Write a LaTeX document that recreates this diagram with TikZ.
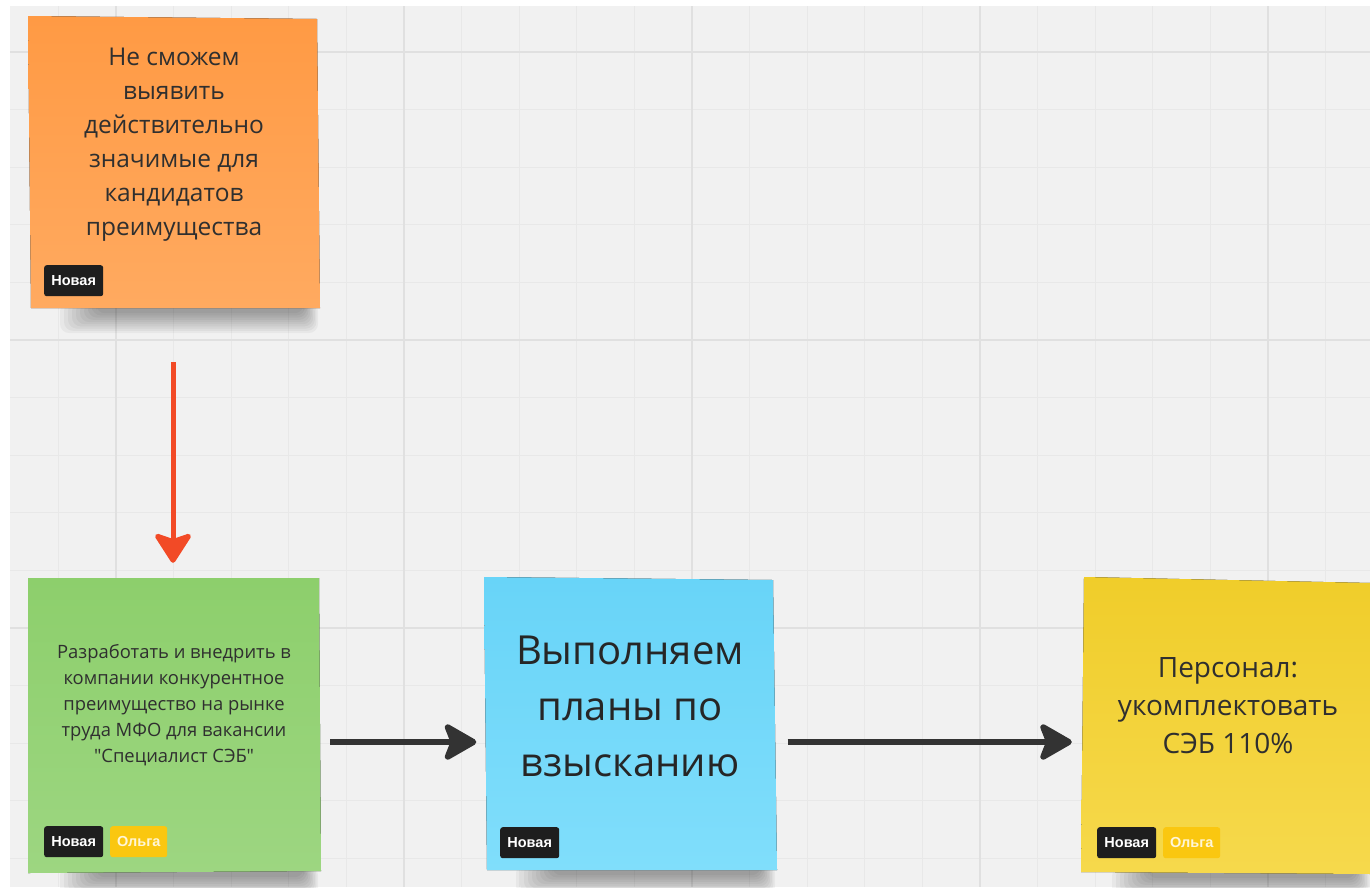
\documentclass[tikz,border=0pt]{standalone}
\usepackage{fontspec}
\setmainfont{Open Sans}[Ligatures=TeXOff]
\newfontfamily\tagfont{Liberation Sans}
\usetikzlibrary{arrows.meta,calc}
\definecolor{bgc}{HTML}{F1F1F1}
\definecolor{gminor}{HTML}{E8E8E8}
\definecolor{gmajor}{HTML}{E0E0E0}
\definecolor{ortop}{HTML}{FF9A44}
\definecolor{orbot}{HTML}{FFAA60}
\definecolor{grtop}{HTML}{8DCF6C}
\definecolor{grbot}{HTML}{9DD681}
\definecolor{bltop}{HTML}{68D4F8}
\definecolor{blbot}{HTML}{80DEFB}
\definecolor{yetop}{HTML}{F0CD2A}
\definecolor{yebot}{HTML}{F6D94C}
\definecolor{txt}{HTML}{2F2F2F}
\definecolor{tagdark}{HTML}{1E1E1E}
\definecolor{tagyel}{HTML}{FAC710}
\definecolor{tagyeltxt}{HTML}{FFF6D8}
\definecolor{redarr}{HTML}{F24A26}
\definecolor{darkarr}{HTML}{333333}
\tikzset{
  minorline/.style={gminor, line width=1pt},
  majorline/.style={gmajor, line width=1.6pt},
  anchorbox/.style={draw=none, fill=none, inner sep=0pt, rectangle},
  notetext/.style={text=txt, align=center, inner sep=0pt},
  tagbase/.style={rounded corners=2.5pt, minimum height=31pt, inner sep=0pt, anchor=north west,
     font=\tagfont\bfseries\fontsize{14.5}{14.5}\selectfont},
  tagnew/.style={tagbase, fill=tagdark, text=white, minimum width=59pt},
  tagolga/.style={tagbase, fill=tagyel, text=tagyeltxt, minimum width=57pt},
  redconn/.style={redarr, line width=5pt, -{Stealth[length=33pt, width=42pt, inset=7pt, round]}},
  darkconn/.style={darkarr, line width=6pt, -{Stealth[length=37pt, width=42pt, inset=8pt, round]}},
}
\begin{document}
\begin{tikzpicture}[x=1pt,y=-1pt]
\useasboundingbox (0,0) rectangle (1370,887);
\fill[white] (0,0) rectangle (1370,887);
\begin{scope}
\clip (10,6) rectangle (1370,887);
\fill[bgc] (10,6) rectangle (1370,887);
\foreach \i in {0,...,23} { \draw[minorline] ({58.4+57.6*\i},6) -- ++(0,881); }
\foreach \i in {0,...,15} { \draw[minorline] (10,{52+57.6*\i}) -- ++(1360,0); }
\foreach \i in {0,...,4} { \draw[majorline] ({116+288*\i},6) -- ++(0,881); }
\foreach \i in {0,...,2} { \draw[majorline] (10,{52+288*\i}) -- ++(1360,0); }
% shadows
\foreach \xa/\xb/\yb in {60/318/308, 60/318/872, 516/775/870, 1112/1370/873} {
  \foreach \k in {0,...,9} {
    \fill[black, opacity=0.04, rounded corners=9pt]
      ({\xa+4*\k},{\yb-6}) rectangle ({\xb-1.6*\k},{\yb+25-2.2*\k});
  }
}
% notes
\fill[top color=ortop, bottom color=orbot] (28,16) -- (317,19) -- (320,308) -- (31,308) -- cycle;
\fill[top color=grtop, bottom color=grbot] (28,578) -- (319,578) -- (321,871) -- (28,873) -- cycle;
\fill[top color=bltop, bottom color=blbot] (484,577) -- (773,580) -- (777,870) -- (487,870) -- cycle;
\fill[top color=yetop, bottom color=yebot] (1084,577) -- (1372,583) -- (1372,874) -- (1081,872) -- cycle;
\end{scope}
% anchor nodes for the notes
\node[anchorbox, minimum width=292pt, minimum height=292pt] (o) at (174,162) {};
\node[anchorbox, minimum width=292pt, minimum height=294pt] (g) at (174,725) {};
\node[anchorbox, minimum width=291pt, minimum height=293pt] (b) at (630,724) {};
\node[anchorbox, minimum width=290pt, minimum height=295pt] (y) at (1227,725) {};
% texts
\node[notetext, font=\fontsize{24.5}{34}\selectfont] (ot) at (174,145)
  {Не сможем\\выявить\\действительно\\значимые для\\кандидатов\\преимущества};
\node[notetext, font=\fontsize{18.4}{26}\selectfont] (gt) at (174,705)
  {Разработать и внедрить в\\компании конкурентное\\преимущество на рынке\\труда МФО для вакансии\\"Специалист СЭБ"};
\node[notetext, font=\fontsize{40}{56}\selectfont, text=black!85] (bt) at (630,706)
  {Выполняем\\планы по\\взысканию};
\node[notetext, font=\fontsize{28}{38}\selectfont] (yt) at (1228,706)
  {Персонал:\\укомплектовать\\СЭБ 110\%};
% tags
\node[tagnew] (o1) at (44,265) {Новая};
\node[tagnew] (g1) at (44,826) {Новая};
\node[tagolga] (g2) at (110,826) {Ольга};
\node[tagnew] (b1) at (500,827) {Новая};
\node[tagnew] (y1) at (1097,827) {Новая};
\node[tagolga] (y2) at (1163,827) {Ольга};
% connectors
\draw[redconn, shorten <=54pt, shorten >=15pt] ([xshift=-1pt]o.south) -- ([xshift=-1pt]g.north);
\draw[darkconn, shorten <=10pt, shorten >=8pt] ([yshift=-17pt]g.east) -- ([yshift=-17pt]g.east -| b.west);
\draw[darkconn, shorten <=12pt, shorten >=10pt] ([yshift=-17pt]g.east -| b.east) -- ([yshift=-17pt]g.east -| y.west);
\end{tikzpicture}
\end{document}
